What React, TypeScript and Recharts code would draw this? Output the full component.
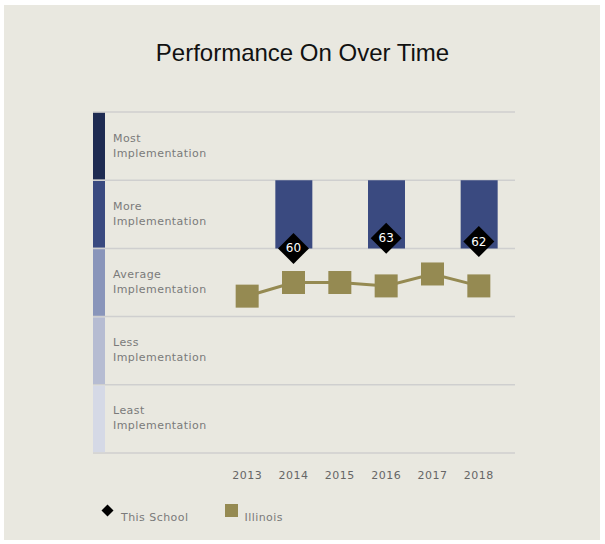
import React from "react";
import { ComposedChart, Bar, Line, XAxis, YAxis, CartesianGrid } from "recharts";

const years = ["2013", "2014", "2015", "2016", "2017", "2018"];
const schoolScores: (number | null)[] = [null, 60, null, 63, null, 62];
const illinoisScores = [46, 50, 50, 49, 52.5, 49];

const levelNames = ["Least", "Less", "Average", "More", "Most"];
const levelColors = ["#d5d9e6", "#b6bcd2", "#8995ba", "#3a4a80", "#1e2b52"];
const levelTicks = [10, 30, 50, 70, 90];
const bandEdges = [0, 20, 40, 60, 80, 100];

const BG = "#e9e8e0";
const OLIVE = "#958a52";
const BAR = "#3a4a80";
const LABEL_FONT = "'DejaVu Sans', Verdana, sans-serif";

const data = years.map((year, i) => {
  const s = schoolScores[i];
  const low = s == null ? null : Math.floor(s / 20) * 20;
  return {
    year,
    school: s,
    schoolBand: low == null ? null : [low, low + 20],
    illinois: illinoisScores[i],
  };
});

const PLOT_LEFT = 93;
const BAND_H = 341 / 5;

const LevelTick = (props: any) => {
  const { y, payload } = props;
  const idx = levelTicks.indexOf(payload.value);
  return (
    <g>
      <rect x={PLOT_LEFT} y={y - BAND_H / 2 + 0.8} width={12} height={BAND_H - 1.6} fill={levelColors[idx]} />
      <text x={PLOT_LEFT + 20} y={y - 8} fontSize={11} fill="#7a7a7a" fontFamily={LABEL_FONT} letterSpacing={0.45} dominantBaseline="central">
        {levelNames[idx]}
      </text>
      <text x={PLOT_LEFT + 20} y={y + 7} fontSize={11} fill="#7a7a7a" fontFamily={LABEL_FONT} letterSpacing={0.45} dominantBaseline="central">
        Implementation
      </text>
    </g>
  );
};

const Diamond = (props: any) => {
  const { cx, cy, value, index } = props;
  if (value == null || cy == null) return <g key={`d${index}`} />;
  const h = 15.5;
  return (
    <g key={`d${index}`}>
      <polygon points={`${cx},${cy - h} ${cx + h},${cy} ${cx},${cy + h} ${cx - h},${cy}`} fill="#000" />
      <text x={cx} y={cy} fill="#fff" fontSize={12} fontFamily={LABEL_FONT} textAnchor="middle" dominantBaseline="central">
        {value}
      </text>
    </g>
  );
};

const Square = (props: any) => {
  const { cx, cy, index } = props;
  return <rect key={`s${index}`} x={cx - 11.5} y={cy - 11.5} width={23} height={23} fill={OLIVE} />;
};

const ChartLegend = () => (
  <div
    style={{
      position: "absolute",
      left: 101,
      top: 504,
      display: "flex",
      alignItems: "flex-start",
      fontFamily: LABEL_FONT,
      fontSize: 11,
      letterSpacing: 0.45,
      color: "#7a7a7a",
    }}
  >
    <svg width={13} height={13} style={{ display: "block" }}>
      <polygon points="6.5,0.5 12.5,6.5 6.5,12.5 0.5,6.5" fill="#000" />
    </svg>
    <span style={{ marginLeft: 7, marginTop: 7 }}>This School</span>
    <span style={{ display: "inline-block", width: 13, height: 13, background: OLIVE, marginLeft: 37, marginTop: 0 }} />
    <span style={{ marginLeft: 6, marginTop: 7 }}>Illinois</span>
  </div>
);

export default function App() {
  return (
    <div style={{ position: "absolute", left: 0, top: 0, width: 605, height: 544, background: "#fff" }}>
      <div style={{ position: "absolute", left: 4, top: 5, width: 596, height: 535, background: BG }} />
      <div
        style={{
          position: "absolute",
          left: 0,
          top: 39,
          width: 605,
          textAlign: "center",
          fontFamily: "'Liberation Sans', Arial, sans-serif",
          fontSize: 24,
          color: "#111",
        }}
      >
        Performance On Over Time
      </div>
      <div style={{ position: "absolute", left: 0, top: 0 }}>
        <ComposedChart width={605} height={544} data={data} margin={{ top: 112, right: 90, bottom: 51, left: 81 }}>
          <CartesianGrid vertical={false} horizontalValues={bandEdges} stroke="#cfcfcf" strokeWidth={1.5} />
          <XAxis
            dataKey="year"
            axisLine={false}
            tickLine={false}
            height={40}
            tickMargin={12}
            padding={{ left: 131, right: 13 }}
            tick={{ fill: "#666", fontSize: 11, fontFamily: LABEL_FONT, letterSpacing: 0.5 }}
          />
          <YAxis
            width={12}
            domain={[0, 100]}
            ticks={levelTicks}
            axisLine={false}
            tickLine={false}
            tick={<LevelTick />}
            interval={0}
          />
          <Bar dataKey="schoolBand" fill={BAR} barSize={37} isAnimationActive={false} />
          <Line
            dataKey="illinois"
            stroke={OLIVE}
            strokeWidth={3}
            dot={<Square />}
            activeDot={false}
            isAnimationActive={false}
          />
          <Line
            dataKey="school"
            stroke="none"
            dot={<Diamond />}
            activeDot={false}
            connectNulls={false}
            isAnimationActive={false}
          />
        </ComposedChart>
      </div>
      <ChartLegend />
    </div>
  );
}
